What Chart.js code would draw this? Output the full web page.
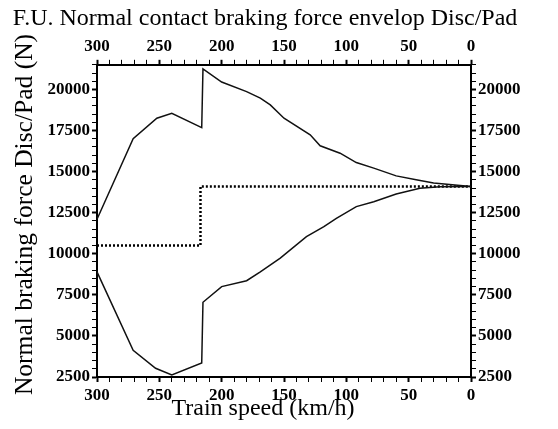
<!DOCTYPE html>
<html>
<head>
<meta charset="utf-8">
<script src="https://cdn.jsdelivr.net/npm/chart.js@4.4.1/dist/chart.umd.min.js"></script>
<style>
  html, body { margin: 0; padding: 0; background: #fff; }
  #wrap { width: 558px; height: 429px; }
</style>
</head>
<body>
<div id="wrap"><canvas id="envChart" width="558" height="429"></canvas></div>
<script>
// speed (km/h) and normal force (N)
const upperSpeed = [300, 271, 252, 240, 216, 215, 200, 180, 169, 161, 150, 129, 121, 105, 92, 78, 60, 44, 30, 0];
const upperForce = [12100, 17000, 18250, 18550, 17680, 21250, 20450, 19870, 19470, 19060, 18250, 17240, 16570, 16120, 15550, 15210, 14740, 14500, 14300, 14100];

const lowerSpeed = [300, 271, 253, 240, 216, 215, 200, 180, 169, 153, 132, 118, 108, 92, 78, 60, 41, 25, 0];
const lowerForce = [8900, 4120, 3030, 2620, 3350, 7050, 8000, 8360, 8900, 9730, 11040, 11650, 12160, 12870, 13170, 13640, 13990, 14080, 14100];

const nominalSpeed = [300, 217, 217, 0];
const nominalForce = [10500, 10500, 14100, 14100];

const speedTicks = [300, 250, 200, 150, 100, 50, 0];
const forceTicks = [2500, 5000, 7500, 10000, 12500, 15000, 17500, 20000];

const toPoints = (xs, ys) => xs.map((x, i) => ({ x: x, y: ys[i] }));

const SERIF = '"Liberation Serif", "Times New Roman", serif';
const tickFont = { family: SERIF, size: 17, weight: 'bold' };

function xScale(pos, withTitle) {
  return {
    type: 'linear', axis: 'x', position: pos, reverse: true,
    min: 0, max: 300,
    afterFit: (s) => { s.height = pos === 'top' ? 32 : 52; },
    border: { color: '#000', width: 2 },
    grid: {
      drawOnChartArea: false, drawTicks: true, tickLength: 5, color: '#000',
      tickWidth: (c) => (speedTicks.includes(c.tick && c.tick.value) ? 2 : 1)
    },
    ticks: {
      stepSize: 10, autoSkip: false, maxRotation: 0, padding: 3,
      color: '#000', font: tickFont,
      callback: (v) => (speedTicks.includes(v) ? String(v) : '')
    },
    title: {
      // trailing spaces nudge the caption left like the original
      display: withTitle, text: 'Train speed (km/h)       ', color: '#000',
      font: { family: SERIF, size: 24 }, padding: { top: 0, bottom: 6 }
    }
  };
}

function yScale(pos, withTitle) {
  return {
    type: 'linear', axis: 'y', position: pos,
    min: 2500, max: 21500,
    afterFit: (s) => { s.width = pos === 'left' ? 97 : 59; },
    border: { color: '#000', width: 2 },
    grid: {
      drawOnChartArea: false, drawTicks: true, tickLength: 5, color: '#000',
      tickWidth: (c) => (forceTicks.includes(c.tick && c.tick.value) ? 2 : 1)
    },
    ticks: {
      stepSize: 500, autoSkip: false, padding: 2,
      color: '#000', font: tickFont,
      callback: (v) => (forceTicks.includes(v) ? String(v) : '')
    },
    title: {
      display: withTitle, text: '  Normal braking force Disc/Pad (N)', color: '#000',
      font: { family: SERIF, size: 25.5 }, padding: { top: 10, bottom: 0 }
    }
  };
}

new Chart(document.getElementById('envChart'), {
  type: 'scatter',
  data: {
    datasets: [
      {
        label: 'upper', data: toPoints(upperSpeed, upperForce),
        showLine: true, borderColor: '#111', borderWidth: 1.5,
        pointRadius: 0, xAxisID: 'x', yAxisID: 'y'
      },
      {
        label: 'lower', data: toPoints(lowerSpeed, lowerForce),
        showLine: true, borderColor: '#111', borderWidth: 1.5,
        pointRadius: 0, xAxisID: 'x', yAxisID: 'y'
      },
      {
        label: 'nominal', data: toPoints(nominalSpeed, nominalForce),
        showLine: true, borderColor: '#000', borderWidth: 2.5, borderDash: [2, 2],
        pointRadius: 0, xAxisID: 'x', yAxisID: 'y'
      }
    ]
  },
  options: {
    responsive: false,
    animation: false,
    layout: { padding: { top: 0, right: 28, bottom: 0, left: 0 } },
    plugins: {
      legend: { display: false },
      tooltip: { enabled: false },
      title: {
        display: true,
        text: 'F.U. Normal contact braking force envelop Disc/Pad',
        color: '#000',
        font: { family: SERIF, size: 24, weight: 'normal' },
        padding: { top: 4, bottom: 0 }
      }
    },
    scales: {
      x: xScale('bottom', true),
      x2: xScale('top', false),
      y: yScale('left', true),
      y2: yScale('right', false)
    }
  }
});
</script>
</body>
</html>
